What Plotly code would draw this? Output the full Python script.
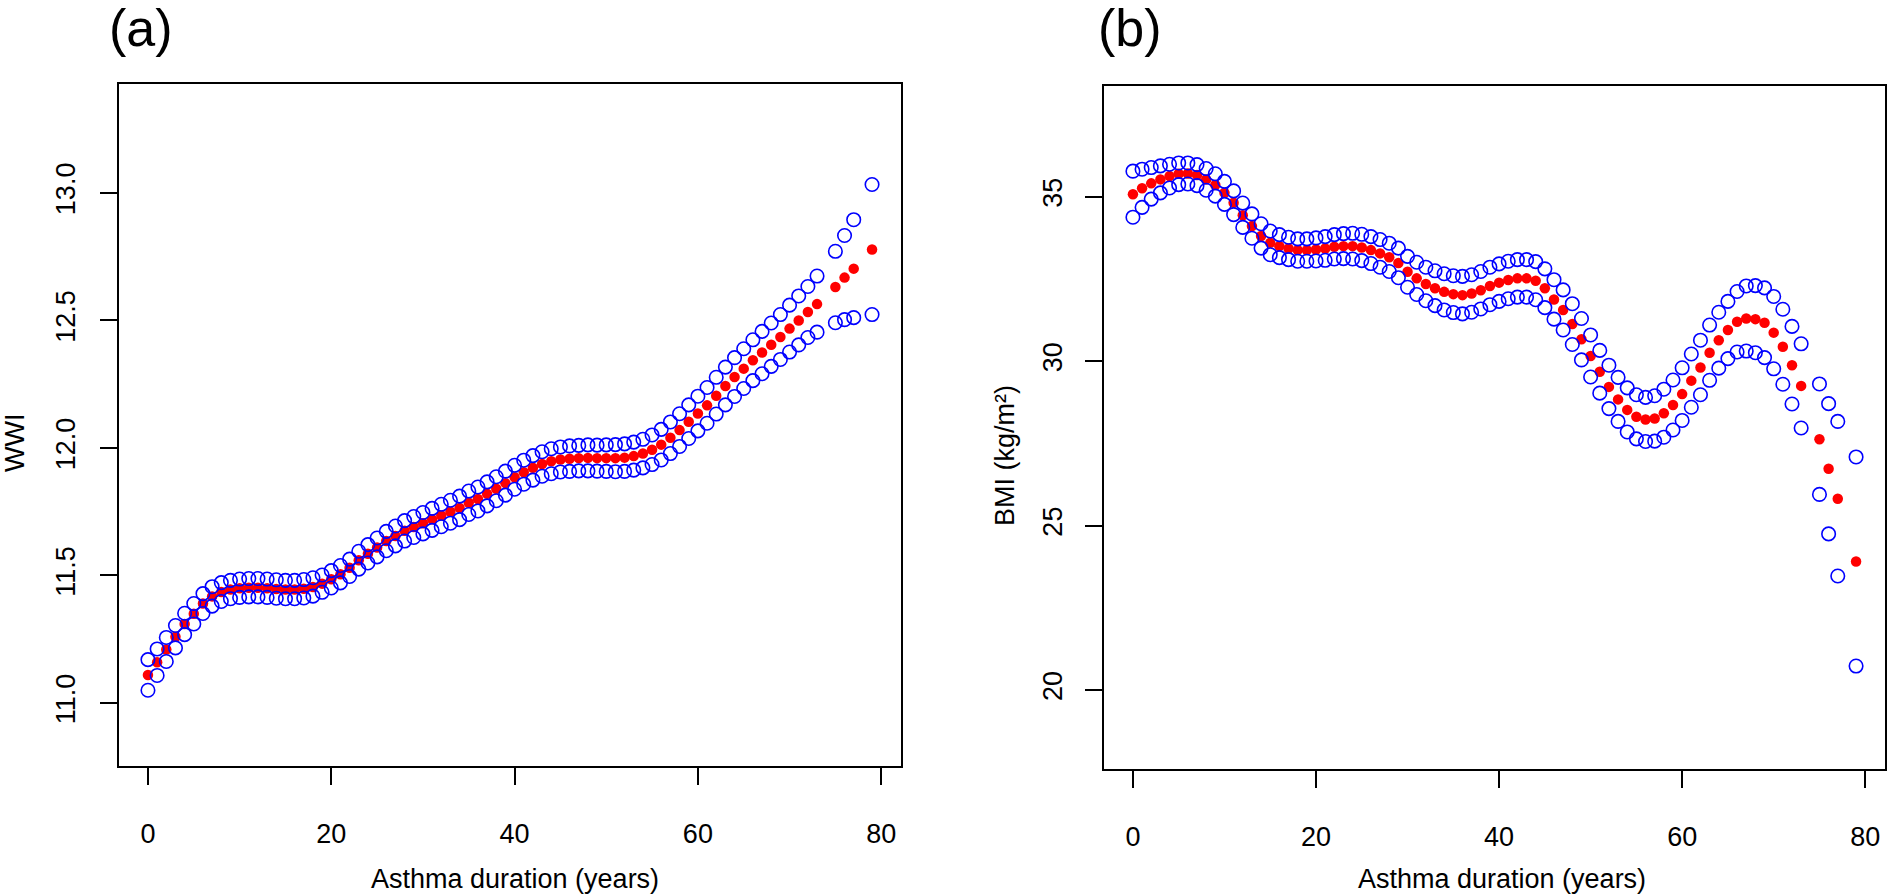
import plotly.graph_objects as go

# ---------------- data ----------------
duration = [0, 1, 2, 3, 4, 5, 6, 7, 8, 9, 10, 11, 12, 13, 14, 15, 16, 17, 18, 19,
            20, 21, 22, 23, 24, 25, 26, 27, 28, 29, 30, 31, 32, 33, 34, 35, 36, 37, 38, 39,
            40, 41, 42, 43, 44, 45, 46, 47, 48, 49, 50, 51, 52, 53, 54, 55, 56, 57, 58, 59,
            60, 61, 62, 63, 64, 65, 66, 67, 68, 69, 70, 71, 72, 73, 75, 76, 77, 79]

wwi_fit = [11.110, 11.160, 11.210, 11.260, 11.310, 11.350, 11.390, 11.418, 11.435, 11.445,
           11.450, 11.452, 11.452, 11.450, 11.447, 11.445, 11.445, 11.448, 11.455, 11.468,
           11.485, 11.505, 11.530, 11.560, 11.585, 11.610, 11.635, 11.655, 11.675, 11.690,
           11.705, 11.720, 11.735, 11.750, 11.765, 11.785, 11.800, 11.820, 11.840, 11.862,
           11.885, 11.905, 11.922, 11.937, 11.948, 11.955, 11.958, 11.960, 11.961, 11.960,
           11.960, 11.960, 11.962, 11.968, 11.978, 11.993, 12.013, 12.040, 12.070, 12.103,
           12.135, 12.167, 12.205, 12.243, 12.278, 12.311, 12.344, 12.374, 12.405, 12.435,
           12.468, 12.500, 12.533, 12.564, 12.631, 12.668, 12.703, 12.778]
wwi_upper = [11.170, 11.212, 11.257, 11.304, 11.352, 11.390, 11.429, 11.456, 11.472, 11.481,
             11.486, 11.488, 11.488, 11.486, 11.483, 11.481, 11.481, 11.484, 11.491, 11.502,
             11.519, 11.539, 11.564, 11.595, 11.621, 11.647, 11.673, 11.694, 11.715, 11.731,
             11.747, 11.763, 11.779, 11.795, 11.811, 11.831, 11.847, 11.867, 11.887, 11.909,
             11.932, 11.952, 11.970, 11.985, 11.997, 12.004, 12.008, 12.010, 12.012, 12.011,
             12.012, 12.013, 12.016, 12.023, 12.034, 12.051, 12.073, 12.102, 12.134, 12.169,
             12.203, 12.237, 12.277, 12.317, 12.354, 12.389, 12.424, 12.457, 12.490, 12.523,
             12.560, 12.596, 12.633, 12.674, 12.771, 12.833, 12.895, 13.033]
wwi_lower = [11.050, 11.108, 11.163, 11.216, 11.268, 11.310, 11.351, 11.380, 11.398, 11.409,
             11.414, 11.416, 11.416, 11.414, 11.411, 11.409, 11.409, 11.412, 11.419, 11.434,
             11.451, 11.471, 11.496, 11.525, 11.549, 11.573, 11.597, 11.616, 11.635, 11.649,
             11.663, 11.677, 11.691, 11.705, 11.719, 11.739, 11.753, 11.773, 11.793, 11.815,
             11.838, 11.858, 11.874, 11.889, 11.899, 11.906, 11.908, 11.910, 11.910, 11.909,
             11.908, 11.907, 11.908, 11.913, 11.922, 11.935, 11.953, 11.978, 12.006, 12.037,
             12.067, 12.097, 12.133, 12.169, 12.202, 12.233, 12.264, 12.291, 12.320, 12.347,
             12.376, 12.404, 12.433, 12.454, 12.491, 12.503, 12.511, 12.523]

bmi_fit = [35.08, 35.26, 35.41, 35.53, 35.63, 35.70, 35.71, 35.66, 35.53, 35.36,
           35.12, 34.82, 34.44, 34.11, 33.81, 33.60, 33.50, 33.43, 33.38, 33.38,
           33.40, 33.43, 33.48, 33.50, 33.50, 33.46, 33.38, 33.28, 33.16, 32.99,
           32.72, 32.52, 32.35, 32.22, 32.11, 32.04, 32.01, 32.06, 32.16, 32.29,
           32.39, 32.47, 32.52, 32.52, 32.45, 32.22, 31.88, 31.56, 31.13, 30.67,
           30.16, 29.68, 29.22, 28.84, 28.52, 28.31, 28.23, 28.26, 28.42, 28.67,
           29.00, 29.41, 29.81, 30.26, 30.64, 30.95, 31.20, 31.30, 31.28, 31.17,
           30.87, 30.44, 29.88, 29.25, 27.63, 26.73, 25.82, 23.91]
bmi_upper = [35.78, 35.84, 35.89, 35.94, 35.99, 36.03, 36.03, 35.98, 35.86, 35.70,
             35.47, 35.18, 34.81, 34.48, 34.18, 33.96, 33.85, 33.77, 33.72, 33.72,
             33.75, 33.79, 33.85, 33.88, 33.89, 33.86, 33.79, 33.70, 33.59, 33.44,
             33.19, 33.01, 32.86, 32.75, 32.66, 32.60, 32.58, 32.63, 32.73, 32.86,
             32.96, 33.04, 33.09, 33.09, 33.03, 32.81, 32.48, 32.17, 31.75, 31.30,
             30.80, 30.33, 29.88, 29.51, 29.19, 28.98, 28.90, 28.95, 29.15, 29.43,
             29.80, 30.22, 30.64, 31.10, 31.49, 31.82, 32.12, 32.29, 32.30, 32.23,
             31.97, 31.58, 31.06, 30.53, 29.31, 28.71, 28.17, 27.09]
bmi_lower = [34.38, 34.68, 34.93, 35.12, 35.27, 35.37, 35.39, 35.34, 35.20, 35.02,
             34.77, 34.46, 34.07, 33.74, 33.44, 33.24, 33.15, 33.09, 33.04, 33.04,
             33.05, 33.07, 33.11, 33.12, 33.11, 33.06, 32.97, 32.86, 32.73, 32.54,
             32.25, 32.03, 31.84, 31.69, 31.56, 31.48, 31.44, 31.49, 31.59, 31.72,
             31.82, 31.90, 31.95, 31.95, 31.87, 31.63, 31.28, 30.95, 30.51, 30.04,
             29.52, 29.03, 28.56, 28.17, 27.85, 27.64, 27.56, 27.57, 27.69, 27.91,
             28.20, 28.60, 28.98, 29.42, 29.79, 30.08, 30.28, 30.31, 30.26, 30.11,
             29.77, 29.30, 28.70, 27.97, 25.95, 24.75, 23.47, 20.73]

x_ticks = [0, 20, 40, 60, 80]
wwi_ticks = [11.0, 11.5, 12.0, 12.5, 13.0]
bmi_ticks = [20, 25, 30, 35]

# ---------------- figure ----------------
W, H = 1889, 896
FONT = "Liberation Sans, Arial, Helvetica, sans-serif"

fig = go.Figure()

def add_panel(xa, ya, fit, upper, lower):
    fig.add_trace(go.Scatter(x=duration, y=fit, mode="markers", xaxis=xa, yaxis=ya,
                             marker=dict(symbol="circle", size=10.5, color="#FF0000",
                                         line=dict(width=0)),
                             showlegend=False, hoverinfo="x+y"))
    for s in (upper, lower):
        fig.add_trace(go.Scatter(x=duration, y=s, mode="markers", xaxis=xa, yaxis=ya,
                                 marker=dict(symbol="circle-open", size=13.5, color="#0000FF",
                                             line=dict(width=1.6, color="#0000FF")),
                                 showlegend=False, hoverinfo="x+y"))

add_panel("x", "y", wwi_fit, wwi_upper, wwi_lower)
add_panel("x2", "y2", bmi_fit, bmi_upper, bmi_lower)

axis_common = dict(showline=True, mirror=True, linecolor="black", linewidth=1.5,
                   ticks="outside", ticklen=17, tickwidth=1.5, tickcolor="black",
                   showgrid=False, zeroline=False,
                   tickfont=dict(family=FONT, size=27, color="black"))

def px_x(p):
    return p / W

def px_y(p):
    return 1 - p / H

fig.update_layout(
    width=W, height=H,
    margin=dict(l=0, r=0, t=0, b=0),
    paper_bgcolor="white", plot_bgcolor="white",
    xaxis=dict(domain=[px_x(119), px_x(901)], range=[-3.16, 82.16],
               tickvals=x_ticks, ticklabelstandoff=26, anchor="y", **axis_common),
    yaxis=dict(domain=[px_y(766), px_y(83.5)], range=[10.753, 13.429],
               tickvals=wwi_ticks, ticktext=[f"{v:.1f}" for v in wwi_ticks],
               tickangle=-90, ticklabelstandoff=14, anchor="x", **axis_common),
    xaxis2=dict(domain=[px_x(1104), px_x(1885)], range=[-3.16, 82.16],
                tickvals=x_ticks, ticklabelstandoff=26, anchor="y2", **axis_common),
    yaxis2=dict(domain=[px_y(769), px_y(86)], range=[17.60, 38.37],
                tickvals=bmi_ticks, tickangle=-90, ticklabelstandoff=12,
                anchor="x2", **axis_common),
)

annots = [
    dict(text="(a)", x=px_x(107), y=px_y(28), xanchor="left", yanchor="middle",
         font=dict(family=FONT, size=52, color="black")),
    dict(text="(b)", x=px_x(1096), y=px_y(28), xanchor="left", yanchor="middle",
         font=dict(family=FONT, size=52, color="black")),
    dict(text="Asthma duration (years)", x=px_x(515), y=px_y(879), xanchor="center",
         yanchor="middle", font=dict(family=FONT, size=27, color="black")),
    dict(text="Asthma duration (years)", x=px_x(1502), y=px_y(879), xanchor="center",
         yanchor="middle", font=dict(family=FONT, size=27, color="black")),
    dict(text="WWI", x=px_x(15), y=px_y(443), xanchor="center", yanchor="middle",
         textangle=-90, font=dict(family=FONT, size=27, color="black")),
    dict(text="BMI (kg/m²)", x=px_x(1005), y=px_y(455), xanchor="center", yanchor="middle",
         textangle=-90, font=dict(family=FONT, size=27, color="black")),
]
for a in annots:
    a.update(xref="paper", yref="paper", showarrow=False)
fig.update_layout(annotations=annots)

fig.write_html("out.html", config={"displayModeBar": False},
               post_script="document.body.style.margin='0';document.body.style.overflow='hidden';")
